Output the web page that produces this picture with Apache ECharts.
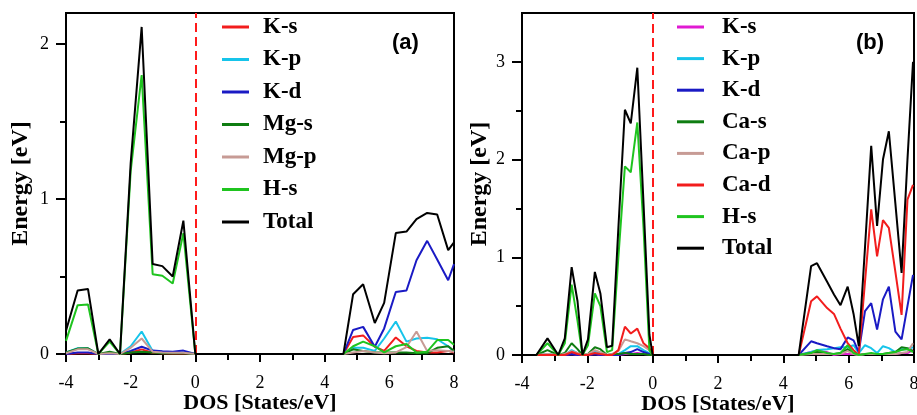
<!DOCTYPE html>
<html>
<head>
<meta charset="utf-8">
<script src="https://cdn.jsdelivr.net/npm/echarts/dist/echarts.min.js"></script>
<style>
html,body{margin:0;padding:0;background:#fff;}
#chart{width:917px;height:415px;}
</style>
</head>
<body>
<div id="chart"></div>
<script>
// ---------- Panel (a) data ----------
const X_A = [-4, -3.64, -3.32, -3.0, -2.65, -2.33, -2.0, -1.66, -1.32, -1.02, -0.7, -0.37, 0, 4.58, 4.88, 5.19, 5.55, 5.84, 6.2, 6.53, 6.84, 7.17, 7.48, 7.82, 8.0];
const A_KS  = [0, 0.005, 0.005, 0, 0, 0, 0.01, 0.03, 0.008, 0.005, 0.004, 0.005, 0, 0, 0.11, 0.12, 0.047, 0.02, 0.107, 0.05, 0.02, 0.01, 0.01, 0.02, 0.01];
const A_KP  = [0.01, 0.037, 0.037, 0, 0, 0, 0.05, 0.145, 0.02, 0.015, 0.01, 0.01, 0, 0, 0.04, 0.04, 0.02, 0.1, 0.21, 0.08, 0.10, 0.105, 0.095, 0.05, 0.015];
const A_KD  = [0, 0.01, 0.01, 0, 0, 0, 0.02, 0.047, 0.022, 0.018, 0.015, 0.022, 0, 0, 0.155, 0.175, 0.047, 0.165, 0.40, 0.41, 0.605, 0.73, 0.61, 0.476, 0.58];
const A_MGS = [0.01, 0.035, 0.037, 0, 0.015, 0, 0.01, 0.015, 0.01, 0.005, 0.005, 0.005, 0, 0, 0.03, 0.02, 0.01, 0.01, 0.01, 0.01, 0.005, 0.005, 0.04, 0.05, 0.02];
const A_MGP = [0.005, 0.03, 0.03, 0, 0.005, 0, 0.04, 0.10, 0.015, 0.01, 0.008, 0.008, 0, 0, 0.01, 0.02, 0.01, 0.005, 0.01, 0.045, 0.145, 0.02, 0.025, 0.02, 0.015];
const A_HS  = [0.085, 0.315, 0.32, 0, 0.08, 0, 1.18, 1.80, 0.515, 0.505, 0.455, 0.78, 0, 0, 0.05, 0.08, 0.05, 0.01, 0.05, 0.065, 0.01, 0.015, 0.09, 0.09, 0.06];
const A_TOT = [0.15, 0.41, 0.42, 0, 0.095, 0, 1.23, 2.11, 0.58, 0.567, 0.50, 0.86, 0, 0, 0.386, 0.45, 0.20, 0.33, 0.78, 0.79, 0.87, 0.91, 0.90, 0.67, 0.72];

// ---------- Panel (b) data ----------
const X_B = [-4, -3.56, -3.22, -2.89, -2.69, -2.48, -2.3, -2.15, -1.98, -1.77, -1.6, -1.4, -1.24, -1.05, -0.85, -0.67, -0.47, -0.28, -0.1, 0, 4.47, 4.85, 5.03, 5.34, 5.55, 5.75, 5.97, 6.15, 6.31, 6.5, 6.69, 6.87, 7.05, 7.23, 7.43, 7.62, 7.8, 7.97];
const B_KS  = [0, 0, 0, 0, 0, 0.01, 0, 0, 0, 0.01, 0, 0, 0, 0, 0.01, 0.01, 0.02, 0.01, 0.005, 0, 0, 0.03, 0.04, 0.03, 0.0, 0.01, 0.01, 0.01, 0, 0.01, 0.01, 0.01, 0.01, 0.01, 0.01, 0.02, 0.02, 0.05];
const B_KP  = [0, 0, 0.01, 0, 0, 0.05, 0.02, 0, 0, 0.04, 0.02, 0, 0, 0.01, 0.05, 0.09, 0.09, 0.05, 0.02, 0, 0, 0.03, 0.05, 0.06, 0.07, 0.08, 0.08, 0.10, 0.02, 0.10, 0.07, 0.02, 0.09, 0.07, 0.03, 0.06, 0.06, 0.08];
const B_KD  = [0, 0, 0, 0, 0, 0.01, 0, 0, 0, 0.01, 0, 0, 0, 0, 0.02, 0.03, 0.06, 0.03, 0.01, 0, 0, 0.14, 0.12, 0.09, 0.07, 0.06, 0.18, 0.15, 0.03, 0.45, 0.53, 0.26, 0.57, 0.70, 0.24, 0.16, 0.50, 0.82];
const B_CAS = [0, 0, 0.05, 0, 0.02, 0.12, 0.06, 0, 0.01, 0.08, 0.06, 0, 0.01, 0.01, 0.02, 0.01, 0.01, 0.01, 0, 0, 0, 0.02, 0.03, 0.01, 0.01, 0.02, 0.06, 0.02, 0, 0.01, 0.01, 0.01, 0.01, 0.02, 0.03, 0.08, 0.07, 0.04];
const B_CAP = [0, 0, 0.01, 0, 0.01, 0.04, 0.02, 0, 0.01, 0.05, 0.03, 0, 0.01, 0.04, 0.16, 0.14, 0.12, 0.09, 0.05, 0, 0, 0.01, 0.01, 0.01, 0.01, 0.01, 0.04, 0.01, 0, 0.01, 0.01, 0.01, 0.01, 0.01, 0.01, 0.02, 0.03, 0.12];
const B_CAD = [0, 0, 0, 0, 0, 0.03, 0.01, 0, 0, 0.02, 0.01, 0, 0, 0.05, 0.29, 0.22, 0.27, 0.12, 0.07, 0, 0, 0.55, 0.60, 0.48, 0.42, 0.27, 0.12, 0.05, 0, 0.75, 1.49, 1.01, 1.38, 1.30, 0.85, 0.41, 1.59, 1.74];
const B_HS  = [0, 0, 0.12, 0, 0.12, 0.72, 0.35, 0, 0.1, 0.63, 0.5, 0.03, 0.05, 1.0, 1.93, 1.87, 2.38, 1.3, 0.05, 0, 0, 0.02, 0.05, 0.02, 0.01, 0.02, 0.10, 0.02, 0, 0.01, 0.02, 0.01, 0.01, 0.02, 0.03, 0.05, 0.06, 0.03];
const B_TOT = [0, 0, 0.17, 0, 0.17, 0.90, 0.55, 0, 0.16, 0.85, 0.63, 0.08, 0.095, 1.3, 2.51, 2.37, 2.94, 1.55, 0.21, 0, 0, 0.91, 0.94, 0.75, 0.62, 0.51, 0.70, 0.42, 0.09, 1.1, 2.14, 1.32, 2.0, 2.29, 1.55, 0.84, 2.0, 3.0];

const FERMI = 0;
const X_TICKS = [-4, 8, 2];
const A_Y_MAX = 2.2, B_Y_MAX = 3.5;
const A_Y_MAJOR = [0, 1, 2], A_Y_MINOR = [0.5, 1.5];
const B_Y_MAJOR = [0, 1, 2, 3], B_Y_MINOR = [0.5, 1.5, 2.5];

const A_SERIES = [
  ['K-s', A_KS, '#f21d1d'], ['K-p', A_KP, '#16c4ea'], ['K-d', A_KD, '#1a1ac4'],
  ['Mg-s', A_MGS, '#0f7d12'], ['Mg-p', A_MGP, '#c79b95'], ['H-s', A_HS, '#1fc41f'],
  ['Total', A_TOT, '#000000']
];
const B_SERIES = [
  ['K-s', B_KS, '#e01ad2'], ['K-p', B_KP, '#16c4ea'], ['K-d', B_KD, '#1a1ac4'],
  ['Ca-s', B_CAS, '#0f7d12'], ['Ca-p', B_CAP, '#c79b95'], ['Ca-d', B_CAD, '#f21d1d'],
  ['H-s', B_HS, '#1fc41f'], ['Total', B_TOT, '#000000']
];

const SERIF = '"Liberation Serif","Times New Roman",serif';

function xAxis(gi) {
  return {
    gridIndex: gi, type: 'value', min: X_TICKS[0], max: X_TICKS[1], interval: X_TICKS[2],
    axisLine: {show: true, onZero: false, lineStyle: {color: '#000', width: 2}},
    axisTick: {show: true, inside: false, length: 8, lineStyle: {color: '#000', width: 2}},
    minorTick: {show: true, splitNumber: 2, length: 6, lineStyle: {color: '#000', width: 2}},
    splitLine: {show: false},
    axisLabel: {color: '#000', fontFamily: SERIF, fontSize: 18, margin: 20},
    name: 'DOS [States/eV]', nameLocation: 'middle', nameGap: 38, nameMoveOverlap: false,
    nameTextStyle: {color: '#000', fontFamily: SERIF, fontSize: 22, fontWeight: 'bold'}
  };
}
function yMain(gi, max, major, gap) {
  return {
    gridIndex: gi, type: 'value', min: 0, max: max, interval: 1, position: 'left',
    axisLine: {show: true, onZero: false, lineStyle: {color: '#000', width: 2}},
    axisTick: {show: true, inside: false, length: 10, customValues: major, lineStyle: {color: '#000', width: 2}},
    splitLine: {show: false},
    axisLabel: {color: '#000', fontFamily: SERIF, fontSize: 18, margin: 17, customValues: major},
    name: 'Energy [eV]', nameLocation: 'middle', nameRotate: 90, nameGap: gap,
    nameTextStyle: {color: '#000', fontFamily: SERIF, fontSize: 24, fontWeight: 'bold'}
  };
}
function yMinor(gi, max, minor) {
  return {
    gridIndex: gi, type: 'value', min: 0, max: max, position: 'left', offset: 0,
    axisLine: {show: false, onZero: false},
    axisTick: {show: true, inside: false, length: 6, customValues: minor, lineStyle: {color: '#000', width: 2}},
    splitLine: {show: false},
    axisLabel: {show: false}
  };
}

function buildSeries(list, xs, gi, yi, prefix) {
  return list.map(([name, vals, color], k) => {
    const s = {
      name: prefix + name, type: 'line', xAxisIndex: gi, yAxisIndex: yi,
      data: xs.map((x, i) => [x, vals[i]]),
      showSymbol: false, symbol: 'none', color: color,
      lineStyle: {color: color, width: 2}, animation: false, z: 2 + k
    };
    if (name === 'Total') {
      s.markLine = {
        silent: true, symbol: ['none', 'none'], label: {show: false},
        lineStyle: {color: '#ff1a1a', type: [9, 5], width: 2},
        data: [{xAxis: FERMI}], animation: false
      };
    }
    return s;
  });
}

function legend(list, prefix, left, top, gap, pad) {
  return {
    orient: 'vertical', left: left, top: top, icon: 'rect',
    itemWidth: 27, itemHeight: 3, itemGap: gap,
    data: list.map(s => prefix + s[0]),
    formatter: n => n.slice(prefix.length),
    selectedMode: false,
    textStyle: {color: '#000', fontFamily: SERIF, fontSize: 23, fontWeight: 'bold', lineHeight: 23, padding: [0, 0, 0, pad]}
  };
}

const chart = echarts.init(document.getElementById('chart'), null, {renderer: 'canvas'});
chart.setOption({
  backgroundColor: '#fff',
  animation: false,
  grid: [
    {left: 66, top: 13, width: 388, height: 341, show: true, borderColor: '#000', borderWidth: 2, backgroundColor: 'transparent', containLabel: false, outerBoundsMode: 'none'},
    {left: 522, top: 13, width: 392, height: 342, show: true, borderColor: '#000', borderWidth: 2, backgroundColor: 'transparent', containLabel: false, outerBoundsMode: 'none'}
  ],
  xAxis: [xAxis(0), xAxis(1)],
  yAxis: [yMain(0, A_Y_MAX, A_Y_MAJOR, 33), yMinor(0, A_Y_MAX, A_Y_MINOR), yMain(1, B_Y_MAX, B_Y_MAJOR, 28), yMinor(1, B_Y_MAX, B_Y_MINOR)],
  legend: [
    legend(A_SERIES, 'a:', 217, 10.5, 9.5, 9),
    legend(B_SERIES, 'b:', 672, 10.5, 8.6, 13)
  ],
  graphic: [
    {type: 'text', left: 392, top: 32, style: {text: '(a)', font: 'bold 22px "Liberation Sans", Arial, sans-serif', fill: '#000'}},
    {type: 'text', left: 856, top: 32, style: {text: '(b)', font: 'bold 22px "Liberation Sans", Arial, sans-serif', fill: '#000'}}
  ],
  series: [].concat(buildSeries(A_SERIES, X_A, 0, 0, 'a:'), buildSeries(B_SERIES, X_B, 1, 2, 'b:'))
});
</script>
</body>
</html>
